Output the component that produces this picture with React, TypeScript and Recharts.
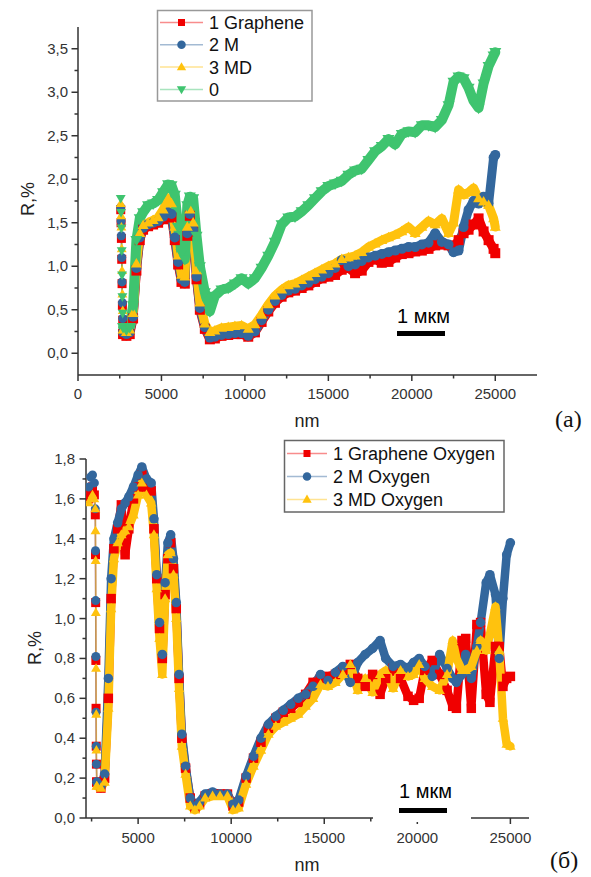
import React from "react";
import { LineChart, Line, XAxis, YAxis } from "recharts";

// ---------- (a) ----------
// steep drop at the start of the spectrum (thin line with markers)
const nmLeadA = [2560, 2580, 2600, 2620, 2640, 2660, 2680, 2700];
const grapheneLeadA = [1.65, 1.5, 1.32, 1.08, 0.8, 0.55, 0.38, 0.22];
const mLeadA = [1.68, 1.52, 1.35, 1.1, 0.82, 0.58, 0.4, 0.24];
const mdLeadA = [1.72, 1.58, 1.45, 1.2, 0.95, 0.68, 0.49, 0.27];
const zeroLeadA = [1.78, 1.62, 1.44, 1.18, 0.9, 0.65, 0.46, 0.3];

const nmA = [
  2700, 2900, 3100, 3300, 3500, 3700, 3900, 4200, 4500, 4800, 5100, 5400, 5600, 5800, 6000, 6200, 6400,
  6550, 6700, 6900, 7100, 7300, 7600, 7900, 8200, 8600, 9000, 9400, 9800, 10200, 10600, 11000, 11400,
  11800, 12200, 12600, 13000, 13400, 13800, 14200, 14600, 15000, 15400, 15800, 16200, 16600, 17000,
  17400, 17800, 18200, 18600, 19000, 19400, 19800, 20200, 20600, 21000, 21400, 21800, 22200, 22500,
  22800, 23100, 23400, 23700, 24000, 24300, 24600, 24900, 25000,
];
const grapheneA = [
  0.22, 0.2, 0.22, 0.4, 0.95, 1.3, 1.42, 1.46, 1.48, 1.5, 1.54, 1.58, 1.56, 1.3, 1.02, 0.82, 0.8,
  1.35, 1.58, 1.4, 0.85, 0.5, 0.28, 0.16, 0.17, 0.2, 0.21, 0.22, 0.22, 0.19, 0.24, 0.36, 0.48,
  0.58, 0.65, 0.7, 0.72, 0.75, 0.78, 0.82, 0.86, 0.88, 0.9, 0.96, 0.98, 0.92, 0.95,
  1.05, 1.08, 1.04, 1.05, 1.1, 1.14, 1.15, 1.17, 1.18, 1.2, 1.24, 1.25, 1.24, 1.22,
  1.3, 1.38, 1.42, 1.48, 1.55, 1.4, 1.3, 1.2, 1.15,
];
const mA = [
  0.24, 0.22, 0.24, 0.42, 0.98, 1.33, 1.44, 1.48, 1.5, 1.52, 1.57, 1.62, 1.6, 1.33, 1.05, 0.85, 0.82,
  1.38, 1.6, 1.42, 0.88, 0.52, 0.3, 0.18, 0.19, 0.21, 0.22, 0.23, 0.23, 0.2, 0.25, 0.38, 0.5,
  0.6, 0.67, 0.72, 0.74, 0.78, 0.81, 0.85, 0.88, 0.92, 0.98, 1.07, 1.0, 1.02, 1.06,
  1.1, 1.12, 1.14, 1.16, 1.18, 1.2, 1.22, 1.22, 1.25, 1.27, 1.38, 1.28, 1.25, 1.16,
  1.18, 1.45, 1.65, 1.75, 1.72, 1.8, 1.72, 2.25, 2.28,
];
const mdA = [
  0.27, 0.24, 0.27, 0.46, 1.03, 1.38, 1.47, 1.5, 1.53, 1.56, 1.65, 1.78, 1.72, 1.45, 1.12, 0.9, 0.88,
  1.45, 1.65, 1.5, 0.95, 0.58, 0.34, 0.24, 0.26, 0.29, 0.3, 0.31, 0.32, 0.28, 0.33, 0.44, 0.56,
  0.66, 0.73, 0.78, 0.8, 0.84, 0.88, 0.92, 0.96, 1.0, 1.03, 1.08, 1.1, 1.12, 1.16,
  1.22, 1.26, 1.3, 1.33, 1.36, 1.4, 1.45, 1.38, 1.45, 1.52, 1.48, 1.55, 1.38, 1.5,
  1.88, 1.82, 1.85, 1.9, 1.78, 1.74, 1.7, 1.55, 1.45,
];
const zeroA = [
  0.3, 0.27, 0.3, 0.55, 1.3, 1.55, 1.62, 1.7, 1.72, 1.76, 1.85, 1.94, 1.93, 1.82, 1.45, 1.15, 1.08,
  1.7, 1.8, 1.78, 1.35, 1.0, 0.7, 0.48, 0.66, 0.73, 0.75, 0.8, 0.86, 0.8, 0.86, 0.98, 1.12,
  1.28, 1.48, 1.56, 1.57, 1.63, 1.7, 1.78, 1.86, 1.92, 1.95, 1.98, 2.05, 2.1, 2.12,
  2.22, 2.32, 2.38, 2.46, 2.4, 2.52, 2.55, 2.54, 2.62, 2.62, 2.6, 2.68, 2.85, 3.12,
  3.18, 3.16, 3.05, 2.9, 2.82, 3.1, 3.3, 3.42, 3.46,
];

// ---------- (б) ----------
const nmLeadB = [2350, 2450, 2550, 2650, 2700, 2710, 2720, 2730, 2740, 2750, 2760, 2780];
const grapheneLeadB = [1.6, 1.64, 1.66, 1.62, 1.52, 1.32, 1.08, 0.79, 0.55, 0.36, 0.27, 0.18];
const mLeadB = [1.66, 1.71, 1.72, 1.68, 1.55, 1.34, 1.09, 0.81, 0.53, 0.36, 0.27, 0.18];
const mdLeadB = [1.58, 1.6, 1.62, 1.6, 1.55, 1.44, 1.29, 1.03, 0.75, 0.52, 0.34, 0.16];

const nmB = [
  2780, 3000, 3200, 3400, 3550, 3700, 3900, 4100, 4300, 4500, 4750, 5000, 5200, 5450, 5700, 5850,
  6000, 6150, 6300, 6450, 6600, 6750, 6900, 7050, 7200, 7350, 7550, 7800, 8050, 8300, 8600, 9000,
  9400, 9800, 10100, 10400, 10800, 11200, 11600, 12000, 12400, 12800, 13200, 13600, 14000, 14400,
  14800, 15200, 15600, 16000, 16400, 16800, 17200, 17600, 18000, 18300, 18700, 19100, 19500, 19800,
  20100, 20400, 20800, 21200, 21600, 21900, 22100, 22400, 22600, 22900, 23200, 23400, 23700, 23900,
  24200, 24400, 24600, 24800, 25000,
];
const grapheneB = [
  0.18, 0.15, 0.2, 0.6, 1.1, 1.35, 1.45, 1.57, 1.32, 1.45, 1.6, 1.66, 1.72, 1.66, 1.64, 1.45,
  1.2, 0.95, 0.8, 1.12, 1.3, 1.38, 1.25, 1.05, 0.7, 0.4, 0.25, 0.1, 0.05, 0.07, 0.11, 0.12,
  0.12, 0.12, 0.06, 0.08, 0.2, 0.3, 0.38, 0.45, 0.5, 0.53, 0.55, 0.58, 0.62, 0.68,
  0.7, 0.71, 0.72, 0.74, 0.77, 0.7, 0.66, 0.72, 0.62, 0.7, 0.75, 0.7, 0.61, 0.59,
  0.6, 0.74, 0.79, 0.72, 0.64, 0.56, 0.55, 0.89, 0.9, 0.55, 0.97, 0.98, 0.62, 0.58,
  0.86, 0.86, 0.66, 0.7, 0.71,
];
const mB = [
  0.18, 0.16, 0.22, 0.7, 1.2, 1.4, 1.48, 1.55, 1.58, 1.61, 1.66, 1.72, 1.76, 1.7, 1.68, 1.5,
  1.22, 0.98, 0.82, 1.18, 1.38, 1.42, 1.3, 1.08, 0.72, 0.42, 0.26, 0.1, 0.06, 0.08, 0.12, 0.13,
  0.12, 0.12, 0.07, 0.09, 0.21, 0.31, 0.4, 0.47, 0.51, 0.54, 0.57, 0.6, 0.62, 0.66,
  0.72, 0.69, 0.73, 0.76, 0.68, 0.78, 0.82, 0.85, 0.89, 0.8, 0.76, 0.77, 0.75, 0.78,
  0.8, 0.76, 0.71, 0.82, 0.75, 0.7, 0.68, 0.72, 0.82, 0.7, 0.86, 0.98, 1.18, 1.22,
  1.12, 0.8, 1.1, 1.32, 1.38,
];
const mdB = [
  0.16, 0.15, 0.18, 0.55, 1.05, 1.3, 1.38, 1.42, 1.44, 1.46, 1.52, 1.62, 1.68, 1.62, 1.58, 1.42,
  1.15, 0.9, 0.72, 1.1, 1.32, 1.33, 1.22, 1.0, 0.65, 0.36, 0.22, 0.06, 0.04, 0.06, 0.1, 0.11,
  0.11, 0.11, 0.04, 0.05, 0.17, 0.26, 0.34, 0.42, 0.46, 0.48, 0.5, 0.52, 0.56, 0.6,
  0.67, 0.66, 0.68, 0.72, 0.77, 0.64, 0.7, 0.63, 0.72, 0.74, 0.65, 0.74, 0.71, 0.72,
  0.77, 0.7, 0.66, 0.64, 0.72, 0.89, 0.8, 0.74, 0.74, 0.76, 0.84, 0.89, 0.84, 0.92,
  1.06, 0.84, 0.5, 0.37, 0.36,
];

const ticksXA = [0, 2500, 5000, 7500, 10000, 12500, 15000, 17500, 20000, 22500, 25000];
const ticksYA = [0, 0.25, 0.5, 0.75, 1, 1.25, 1.5, 1.75, 2, 2.25, 2.5, 2.75, 3, 3.25, 3.5];
const ticksXB = [2500, 5000, 7500, 10000, 12500, 15000, 17500, 20000, 22500, 25000];
const ticksYB = [0, 0.1, 0.2, 0.3, 0.4, 0.5, 0.6, 0.7, 0.8, 0.9, 1, 1.1, 1.2, 1.3, 1.4, 1.5, 1.6, 1.7, 1.8];

const legendA = ["1 Graphene", "2 M", "3 MD", "0"];
const legendB = ["1 Graphene Oxygen", "2 M Oxygen", "3 MD Oxygen"];

const RED = "#f00000";
const BLUE = "#33679d";
const YELLOW = "#ffc20e";
const GREEN = "#3fc46f";
const AXIS = "#333333";
const FONT = "'Liberation Sans', Arial, sans-serif";

type Shape = "square" | "circle" | "up" | "down";

const tableA = nmA.map((nm, i) => ({ nm, g: grapheneA[i], m: mA[i], md: mdA[i], z: zeroA[i] }));
const leadA = nmLeadA.map((nm, i) => ({ nm, g: grapheneLeadA[i], m: mLeadA[i], md: mdLeadA[i], z: zeroLeadA[i] }));
const tableB = nmB.map((nm, i) => ({ nm, g: grapheneB[i], m: mB[i], md: mdB[i] }));
const leadB = nmLeadB.map((nm, i) => ({ nm, g: grapheneLeadB[i], m: mLeadB[i], md: mdLeadB[i] }));

function Marker({ x, y, shape, color, size }: { x: number; y: number; shape: Shape; color: string; size: number }) {
  const h = size / 2;
  if (shape === "square") return <rect x={x - h} y={y - h} width={size} height={size} fill={color} />;
  if (shape === "circle") return <circle cx={x} cy={y} r={h} fill={color} />;
  if (shape === "up")
    return <polygon points={`${x},${y - h * 1.15} ${x - h * 1.1},${y + h * 0.75} ${x + h * 1.1},${y + h * 0.75}`} fill={color} />;
  return <polygon points={`${x},${y + h * 1.15} ${x - h * 1.1},${y - h * 0.75} ${x + h * 1.1},${y - h * 0.75}`} fill={color} />;
}

const dotFor = (id: string, shape: Shape, color: string, size: number) => (p: any) => (
  <g key={`${id}-${p.index}`}>
    {p.cx != null && p.cy != null ? <Marker x={p.cx} y={p.cy} shape={shape} color={color} size={size} /> : null}
  </g>
);

function series(id: string, data: any[], key: string, color: string, shape: Shape, lead: boolean, band = 9) {
  return (
    <Line
      key={id}
      data={data}
      dataKey={key}
      type="linear"
      stroke={color}
      strokeOpacity={lead ? 0.5 : 1}
      strokeWidth={lead ? 1.5 : band}
      strokeLinejoin="round"
      strokeLinecap="round"
      dot={dotFor(id, shape, color, lead ? 9 : band + 1)}
      activeDot={false}
      isAnimationActive={false}
    />
  );
}

const fmt = (v: number) => v.toFixed(1).replace(".", ",");

const xTick = (labelDy: number) => (p: any) => {
  const v = p.payload.value;
  const major = v % 5000 === 0;
  return (
    <g key={`xt-${v}`}>
      <line x1={p.x} x2={p.x} y1={p.y} y2={p.y + (major ? 6 : 3.5)} stroke={AXIS} strokeWidth={1.5} />
      {major && (
        <text x={p.x} y={p.y + labelDy} textAnchor="middle" fontSize={15} fill={AXIS} fontFamily={FONT}>
          {v}
        </text>
      )}
    </g>
  );
};

const yTick = (step: number, gap: number) => (p: any) => {
  const v = p.payload.value;
  const major = Math.round(v * 100) % Math.round(step * 100) === 0;
  return (
    <g key={`yt-${v}`}>
      <line x1={p.x} x2={p.x - (major ? 6.5 : 3.5)} y1={p.y} y2={p.y} stroke={AXIS} strokeWidth={1.5} />
      {major && (
        <text x={p.x - gap} y={p.y + 5} textAnchor="end" fontSize={15} fill={AXIS} fontFamily={FONT}>
          {fmt(v)}
        </text>
      )}
    </g>
  );
};

const axisLine = { stroke: AXIS, strokeWidth: 1.5 };

function LegendRow({ x0, x1, y, tx, color, shape, label }: any) {
  return (
    <g>
      <line x1={x0} x2={x1} y1={y} y2={y} stroke={color} strokeOpacity={0.45} strokeWidth={1.5} />
      <Marker x={(x0 + x1) / 2} y={y} shape={shape} color={color} size={shape === "square" ? 7 : 8.5} />
      <text x={tx} y={y + 6.5} fontSize={18} fill="#111" fontFamily={FONT}>
        {label}
      </text>
    </g>
  );
}

export default function App() {
  const colorsA = [RED, BLUE, YELLOW, GREEN];
  const shapesA: Shape[] = ["square", "circle", "up", "down"];
  return (
    <div style={{ position: "absolute", left: 0, top: 0, width: 591, height: 877, background: "#fff" }}>
      <div style={{ position: "absolute", left: 0, top: 0 }}>
        <LineChart width={591} height={430} margin={{ top: 27, right: 54, bottom: 25, left: 0 }}>
          <XAxis
            type="number"
            dataKey="nm"
            domain={[0, 27500]}
            ticks={ticksXA}
            interval={0}
            tickSize={0}
            tickMargin={0}
            tick={xTick(24)}
            tickLine={false}
            axisLine={axisLine}
            height={30}
            allowDataOverflow
          />
          <YAxis
            type="number"
            domain={[-0.25, 3.75]}
            ticks={ticksYA}
            interval={0}
            tickSize={0}
            tickMargin={0}
            tick={yTick(0.5, 10)}
            tickLine={false}
            axisLine={axisLine}
            width={78}
            allowDataOverflow
          />
          {series("g-lead-a", leadA, "g", RED, "square", true)}
          {series("g-a", tableA, "g", RED, "square", false)}
          {series("m-lead-a", leadA, "m", BLUE, "circle", true)}
          {series("m-a", tableA, "m", BLUE, "circle", false)}
          {series("md-lead-a", leadA, "md", YELLOW, "up", true)}
          {series("md-a", tableA, "md", YELLOW, "up", false)}
          {series("z-lead-a", leadA, "z", GREEN, "down", true)}
          {series("z-a", tableA, "z", GREEN, "down", false, 10)}
        </LineChart>
      </div>
      <div style={{ position: "absolute", left: 0, top: 430 }}>
        <LineChart width={591} height={447} margin={{ top: 29, right: 62, bottom: 29, left: 0 }}>
          <XAxis
            type="number"
            dataKey="nm"
            domain={[2200, 26000]}
            ticks={ticksXB}
            interval={0}
            tickSize={0}
            tickMargin={0}
            tick={xTick(25)}
            tickLine={false}
            axisLine={axisLine}
            height={30}
            allowDataOverflow
          />
          <YAxis
            type="number"
            domain={[0, 1.8]}
            ticks={ticksYB}
            interval={0}
            tickSize={0}
            tickMargin={0}
            tick={yTick(0.2, 11)}
            tickLine={false}
            axisLine={axisLine}
            width={86}
            allowDataOverflow
          />
          {series("g-lead-b", leadB, "g", RED, "square", true)}
          {series("g-b", tableB, "g", RED, "square", false, 8.5)}
          {series("m-lead-b", leadB, "m", BLUE, "circle", true)}
          {series("m-b", tableB, "m", BLUE, "circle", false, 8.5)}
          {series("md-lead-b", leadB, "md", YELLOW, "up", true)}
          {series("md-b", tableB, "md", YELLOW, "up", false, 8.5)}
        </LineChart>
      </div>
      <svg
        width={591}
        height={877}
        style={{ position: "absolute", left: 0, top: 0, pointerEvents: "none" }}
      >
        {/* legend (a) */}
        <rect x={157.5} y={10.5} width={154.5} height={90.5} fill="#fff" stroke="#999" strokeWidth={1.5} />
        {legendA.map((label, i) => (
          <LegendRow
            key={label}
            x0={160}
            x1={203}
            y={22.5 + i * 22.3}
            tx={209}
            color={colorsA[i]}
            shape={shapesA[i]}
            label={label}
          />
        ))}
        {/* legend (б) */}
        <rect x={284.5} y={440.5} width={219.5} height={71.5} fill="#fff" stroke="#666" strokeWidth={1.5} />
        {legendB.map((label, i) => (
          <LegendRow
            key={label}
            x0={287}
            x1={327}
            y={453.5 + i * 23}
            tx={333}
            color={colorsA[i]}
            shape={shapesA[i]}
            label={label}
          />
        ))}

        {/* axis titles */}
        <text x={307} y={427} textAnchor="middle" fontSize={18} fill="#222" fontFamily={FONT}>
          nm
        </text>
        <text
          transform="translate(34 199) rotate(-90)"
          textAnchor="middle"
          fontSize={18}
          fill="#222"
          fontFamily={FONT}
        >
          R,%
        </text>
        <text x={307} y={871} textAnchor="middle" fontSize={18} fill="#222" fontFamily={FONT}>
          nm
        </text>
        <text
          transform="translate(41 648) rotate(-90)"
          textAnchor="middle"
          fontSize={18}
          fill="#222"
          fontFamily={FONT}
        >
          R,%
        </text>

        {/* panel letters */}
        <text x={555} y={427} fontSize={24} fill="#111" fontFamily="'Liberation Serif', 'Times New Roman', serif">
          (a)
        </text>
        <text x={550} y={868} fontSize={24} fill="#111" fontFamily="'Liberation Serif', 'Times New Roman', serif">
          (б)
        </text>

        {/* scale bars */}
        <text x={397} y={323} fontSize={20} fill="#000" fontFamily={FONT}>
          1 мкм
        </text>
        <rect x={397} y={331} width={48} height={5} fill="#000" />

        <rect x={373} y={812} width={98} height={10} fill="#fff" />
        <text x={399} y={798} fontSize={20} fill="#000" fontFamily={FONT}>
          1 мкм
        </text>
        <rect x={399} y={808} width={48} height={5} fill="#000" />
      </svg>
    </div>
  );
}
